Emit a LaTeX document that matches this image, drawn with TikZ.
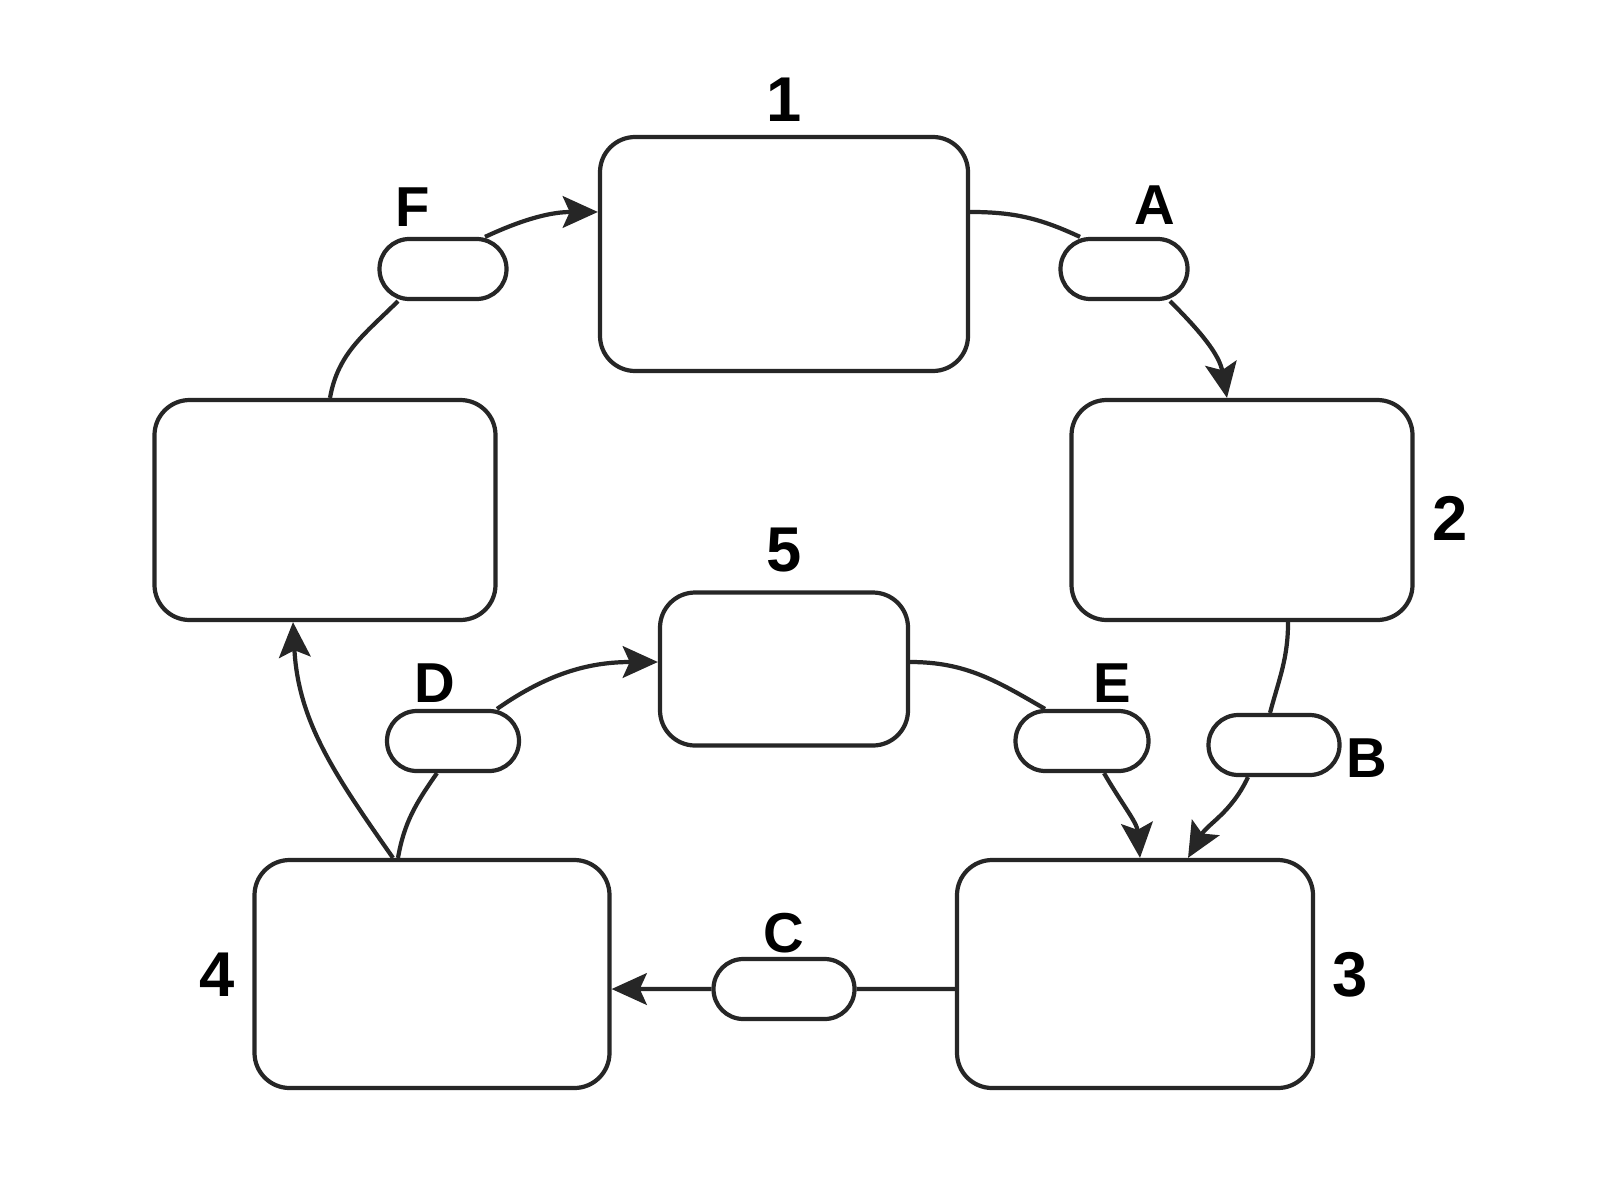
\documentclass[tikz,border=0pt]{standalone}
\usepackage{fontspec}
\setmainfont{Liberation Sans}
\usetikzlibrary{arrows.meta,calc}
\begin{document}
\begin{tikzpicture}[x=0.01cm,y=-0.01cm,
  box/.style={draw=black!85,line width=1.2pt,rounded corners=10pt,inner sep=0pt,fill=white},
  pill/.style={draw=black!85,line width=1.2pt,rounded corners=8.5pt,inner sep=0pt,minimum width=127*0.01cm,minimum height=60*0.01cm,fill=white},
  lbl/.style={font=\bfseries\fontsize{18}{20}\selectfont},
  let/.style={font=\bfseries\fontsize{16}{18}\selectfont},
  con/.style={draw=black!85,line width=1.2pt},
  arr/.style={con,-{Stealth[length=10pt,width=9pt,inset=2pt]}}]
\useasboundingbox (0,0) rectangle (1600,1200);
\fill[white] (0,0) rectangle (1600,1200);
% boxes
\node[box,minimum width=368*0.01cm,minimum height=234*0.01cm] (b1) at (784,254) {};
\node[box,minimum width=341*0.01cm,minimum height=220*0.01cm] (b2) at (1242,510) {};
\node[box,minimum width=341*0.01cm,minimum height=220*0.01cm] (b6) at (325,510) {};
\node[box,minimum width=248*0.01cm,minimum height=153*0.01cm] (b5) at (784,669) {};
\node[box,minimum width=355*0.01cm,minimum height=228*0.01cm] (b4) at (432,974) {};
\node[box,minimum width=356*0.01cm,minimum height=228*0.01cm] (b3) at (1135,974) {};
% pills
\node[pill] (pF) at (443,269) {};
\node[pill] (pA) at (1124,269) {};
\node[pill,minimum width=132*0.01cm] (pD) at (453,741) {};
\node[pill,minimum width=133*0.01cm] (pE) at (1082,741) {};
\node[pill,minimum width=131*0.01cm] (pB) at (1274,745) {};
\node[pill,minimum width=141*0.01cm] (pC) at (784,989) {};
% labels
\node[lbl] (l1) at (784,100) {1};
\node[lbl] (l2) at (1450,518) {2};
\node[lbl] (l3) at (1350,975) {3};
\node[lbl] (l4) at (217,975) {4};
\node[lbl] (l5) at (784,550) {5};
\node[let] (lF) at (413,207) {F};
\node[let] (lA) at (1155,205) {A};
\node[let] (lD) at (435,683) {D};
\node[let] (lE) at (1112,683) {E};
\node[let] (lB) at (1367,758) {B};
\node[let] (lC) at (784,933) {C};
% connectors
\draw[con] ([yshift=0.42cm]b1.east) to[out=0,in=155] ([xshift=-0.44cm]pA.north);
\draw[arr] ([xshift=0.46cm]pA.south) to[out=-45,in=100] ([xshift=-0.15cm]b2.north);
\draw[con] ([xshift=0.05cm]b6.north) to[out=80,in=-135] ([xshift=-0.45cm]pF.south);
\draw[arr] ([xshift=0.42cm]pF.north) to[out=25,in=180] ([yshift=0.42cm]b1.west);
\draw[con] ([xshift=0.46cm]b2.south) to[out=-90,in=75] ([xshift=-0.04cm]pB.north);
\draw[arr] ([xshift=-0.26cm]pB.south) to[out=-115,in=60] ([xshift=0.53cm]b3.north);
\draw[con] ([yshift=0.07cm]b5.east) to[out=0,in=150] ([xshift=-0.37cm]pE.north);
\draw[arr] ([xshift=0.22cm]pE.south) to[out=-60,in=95] ([xshift=0.05cm]b3.north);
\draw[arr] ([xshift=0.44cm]pD.north) to[out=35,in=180] ([yshift=0.07cm]b5.west);
\draw[con] ([xshift=-0.34cm]b4.north) to[out=80,in=-125] ([xshift=-0.16cm]pD.south);
\draw[arr] ([xshift=-0.39cm]b4.north) to[out=125,in=-87] ([xshift=-0.32cm]b6.south);
\draw[con] ([yshift=-0.15cm]b3.west) -- (pC.east);
\draw[arr] (pC.west) -- ([yshift=-0.15cm]b4.east);
\end{tikzpicture}
\end{document}
